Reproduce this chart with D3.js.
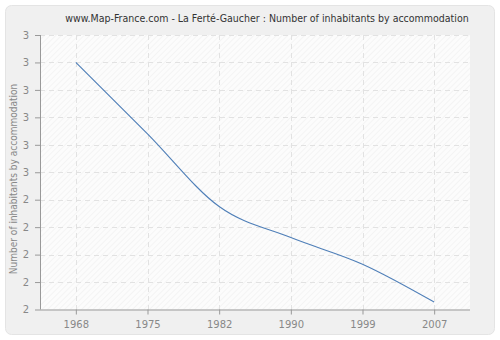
<!DOCTYPE html>
<html>
<head>
<meta charset="utf-8">
<script src="https://cdn.jsdelivr.net/npm/d3@7"></script>
<style>
  body { margin: 0; background: #fff; }
  svg { display: block; }
</style>
</head>
<body>
<div id="chart"></div>
<script>
const years = ["1968", "1975", "1982", "1990", "1999", "2007"];
const values = [2.9, 2.64, 2.375, 2.262, 2.165, 2.027];
const yTicks = [2.0, 2.1, 2.2, 2.3, 2.4, 2.5, 2.6, 2.7, 2.8, 2.9, 3.0];

const W = 500, H = 340;
const margin = { top: 35, right: 30, bottom: 30.5, left: 40 };

const svg = d3.select("#chart").append("svg")
    .attr("width", W)
    .attr("height", H);

// hatch pattern for plot background
const defs = svg.append("defs");
const pat = defs.append("pattern")
    .attr("id", "hatch")
    .attr("patternUnits", "userSpaceOnUse")
    .attr("width", 4)
    .attr("height", 4)
    .attr("patternTransform", "rotate(45)");
pat.append("rect").attr("width", 4).attr("height", 4).attr("fill", "#fcfcfc");
pat.append("line").attr("x1", 0).attr("y1", 0).attr("x2", 0).attr("y2", 4)
    .attr("stroke", "#efefef").attr("stroke-width", 1.2);

// card background
svg.append("rect")
    .attr("x", 0).attr("y", 0).attr("width", W).attr("height", H)
    .attr("fill", "#ffffff");
svg.append("rect")
    .attr("x", 5.5).attr("y", 5.5).attr("width", 489).attr("height", 329)
    .attr("rx", 6)
    .attr("fill", "#f0f0f0")
    .attr("stroke", "#e4e4e4");

const x = d3.scalePoint()
    .domain(years)
    .range([margin.left, W - margin.right])
    .padding(0.5);

const y = d3.scaleLinear()
    .domain([2, 3])
    .range([H - margin.bottom, margin.top]);

// plot area
svg.append("rect")
    .attr("x", margin.left)
    .attr("y", margin.top)
    .attr("width", W - margin.right - margin.left)
    .attr("height", H - margin.bottom - margin.top)
    .attr("fill", "url(#hatch)");

// grid
const grid = svg.append("g")
    .attr("stroke", "#e2e2e2")
    .attr("stroke-dasharray", "5,4")
    .attr("stroke-width", 1);
yTicks.slice(1).forEach(t => {
    grid.append("line")
        .attr("x1", margin.left).attr("x2", W - margin.right)
        .attr("y1", Math.round(y(t)) + 0.5).attr("y2", Math.round(y(t)) + 0.5);
});
years.forEach(yr => {
    grid.append("line")
        .attr("x1", Math.round(x(yr)) + 0.5).attr("x2", Math.round(x(yr)) + 0.5)
        .attr("y1", margin.top).attr("y2", H - margin.bottom);
});

// axes
const yAxis = d3.axisLeft(y)
    .tickValues(yTicks)
    .tickSize(5)
    .tickPadding(6)
    .tickFormat(d => d3.format(".0f")(d));
const xAxis = d3.axisBottom(x)
    .tickSize(5)
    .tickPadding(6);

const yAxisG = svg.append("g")
    .attr("transform", `translate(${margin.left},0)`)
    .call(yAxis);
const xAxisG = svg.append("g")
    .attr("transform", `translate(0,${H - margin.bottom})`)
    .call(xAxis);

[yAxisG, xAxisG].forEach(g => {
    g.select(".domain").attr("stroke", "#999").attr("d", function () { return d3.select(this).attr("d"); });
    g.selectAll(".tick line").attr("stroke", "#999");
    g.selectAll(".tick text")
        .attr("fill", "#888")
        .attr("font-family", "DejaVu Sans, Verdana, sans-serif")
        .attr("font-size", 10);
});
// draw domain without end caps
yAxisG.select(".domain").attr("d", `M0.5,${margin.top}V${H - margin.bottom}`);
xAxisG.select(".domain").attr("d", `M${margin.left},0.5H${W - margin.right}`);

// line
const line = d3.line()
    .x((d, i) => x(years[i]))
    .y(d => y(d))
    .curve(d3.curveMonotoneX);

svg.append("path")
    .datum(values)
    .attr("d", line)
    .attr("fill", "none")
    .attr("stroke", "#4f7fb8")
    .attr("stroke-width", 1.1);

// title
svg.append("text")
    .attr("x", 267)
    .attr("y", 22)
    .attr("text-anchor", "middle")
    .attr("font-family", "DejaVu Sans Condensed, DejaVu Sans, sans-serif")
    .attr("font-size", 10.5)
    .attr("fill", "#333")
    .text("www.Map-France.com - La Ferté-Gaucher : Number of inhabitants by accommodation");

// y label
svg.append("text")
    .attr("transform", "translate(17,179) rotate(-90)")
    .attr("text-anchor", "middle")
    .attr("font-family", "DejaVu Sans Condensed, DejaVu Sans, sans-serif")
    .attr("font-size", 10)
    .attr("fill", "#888")
    .text("Number of inhabitants by accommodation");
</script>
</body>
</html>
